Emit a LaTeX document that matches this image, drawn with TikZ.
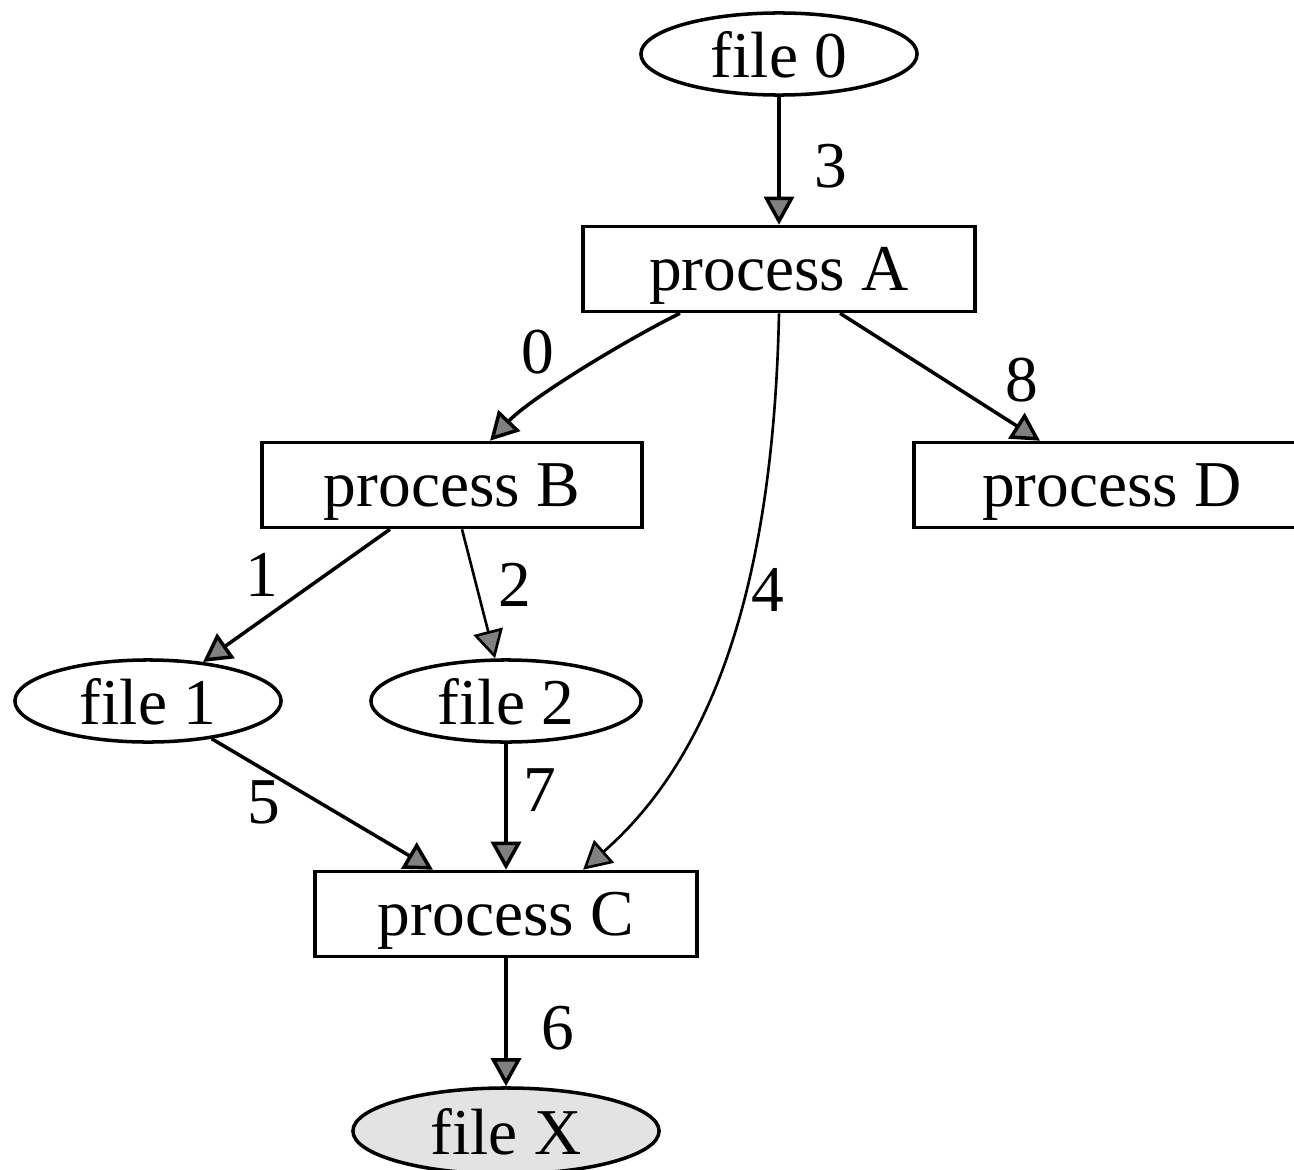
\documentclass[tikz,border=0pt]{standalone}
\usepackage{fontspec}
\setmainfont{Liberation Serif}
\usetikzlibrary{arrows.meta, shapes.geometric}

\tikzset{
    proc/.style={draw, line width=1pt, minimum width=3.82cm, minimum height=0.85cm, inner sep=0pt, text depth=0pt, font=\fontsize{18.6}{22}\selectfont},
    fichier/.style={draw, ellipse, line width=1pt, minimum width=2.7cm, minimum height=0.82cm, inner sep=0pt, text depth=0pt, font=\fontsize{18.6}{22}\selectfont},
    lbl/.style={inner sep=0pt, font=\fontsize{18.6}{22}\selectfont},
    fleche/.style={->, line width=1pt},
}

\begin{document}
\begin{tikzpicture}[x=0.01cm, y=-0.01cm, >={Triangle[width=0.3cm, length=0.28cm, fill=black!50]}]
    % Cadre
    \useasboundingbox (0,0) rectangle (1294,1170);
    \clip (0,0) rectangle (1294,1170);

    % Fichiers
    \node[fichier, minimum width=2.76cm] (f0) at (779,54) {file 0};
    \node[fichier, minimum width=2.66cm] (f1) at (148,701) {file 1};
    \node[fichier] (f2) at (506,701) {file 2};
    \node[fichier, minimum width=3.06cm, minimum height=0.86cm, fill=black!11] (fX) at (506,1131) {file X};

    % Processus
    \node[proc, minimum width=3.92cm] (pA) at (779,269) {process A};
    \node[proc, minimum width=3.8cm] (pB) at (452,485) {process B};
    \node[proc, minimum width=3.96cm] (pD) at (1112,485) {process D};
    \node[proc] (pC) at (506,914) {process C};

    % Arcs
    \draw[fleche] (f0) -- (pA);
    \draw[fleche] ([xshift=-0.99cm]pA.south) .. controls +(-60,30) and +(40,-42) .. ([xshift=0.38cm]pB.north);
    \draw[fleche] ([xshift=0.61cm]pA.south) -- ([xshift=-0.72cm]pD.north);
    \draw[fleche, line width=0.75pt] (pA.south) .. controls +(-6,288) and +(122,-107) .. ([xshift=0.77cm]pC.north);
    \draw[fleche] ([xshift=-0.62cm]pB.south) -- (f1);
    \draw[fleche, line width=0.75pt] ([xshift=0.1cm]pB.south) -- (f2);
    \draw[fleche] (f1) -- ([xshift=-0.73cm]pC.north);
    \draw[fleche] (f2) -- (pC);
    \draw[fleche] (pC) -- (fX);

    % Etiquettes
    \node[lbl] (l3) at (831,166) {3};
    \node[lbl] (l0) at (538,352) {0};
    \node[lbl] (l8) at (1022,380) {8};
    \node[lbl] (l1) at (262,575) {1};
    \node[lbl] (l2) at (515,585) {2};
    \node[lbl] (l4) at (768,590) {4};
    \node[lbl] (l5) at (264,802) {5};
    \node[lbl] (l7) at (540,790) {7};
    \node[lbl] (l6) at (558,1028) {6};
\end{tikzpicture}
\end{document}
